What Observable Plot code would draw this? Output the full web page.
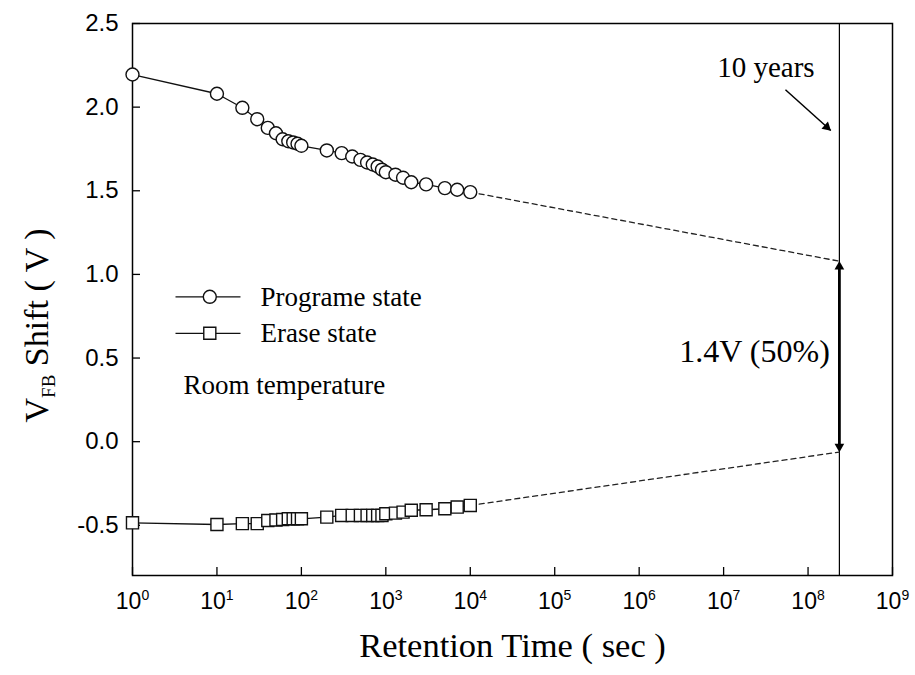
<!DOCTYPE html>
<html>
<head>
<meta charset="utf-8">
<script src="https://cdn.jsdelivr.net/npm/d3@7"></script>
<script src="https://cdn.jsdelivr.net/npm/@observablehq/plot@0.6"></script>
<style>
  body { margin: 0; background: #fff; }
</style>
</head>
<body>
<div id="chart"></div>
<script>
// ---- data ----
const times = [1, 10, 20, 30, 40, 50, 60, 70, 80, 90, 100, 200, 300, 400, 500, 600, 700, 800, 900, 1000, 1300, 1600, 2000, 3000, 5000, 7000, 10000];
const programVfb = [2.195, 2.08, 1.996, 1.928, 1.876, 1.844, 1.808, 1.796, 1.789, 1.781, 1.769, 1.741, 1.725, 1.705, 1.685, 1.669, 1.657, 1.645, 1.626, 1.611, 1.596, 1.578, 1.551, 1.538, 1.516, 1.506, 1.492];
const eraseVfb = [-0.485, -0.495, -0.49, -0.49, -0.471, -0.468, -0.465, -0.461, -0.461, -0.461, -0.461, -0.451, -0.441, -0.441, -0.441, -0.441, -0.441, -0.441, -0.441, -0.431, -0.427, -0.421, -0.41, -0.407, -0.401, -0.391, -0.381];

const tenYears = 2.35e8;
const extrapTimes = [10000, tenYears];
const programExtrap = [1.492, 1.079];
const eraseExtrap = [-0.381, -0.062];

const xTickExps = [0, 1, 2, 3, 4, 5, 6, 7, 8, 9];
const xTicks = xTickExps.map(e => Math.pow(10, e));
const yTicks = [-0.5, 0, 0.5, 1.0, 1.5, 2.0, 2.5];

const seriesNames = ["Programe state", "Erase state"];
const noteText = "Room temperature";
const windowText = "1.4V (50%)";
const yearsText = "10 years";
const xTitle = "Retention Time ( sec )";
const yTitleParts = ["V", "FB", " Shift ( V )"];

// ---- tables built from the arrays ----
const programData = times.map((t, i) => ({t, v: programVfb[i]}));
const eraseData = times.map((t, i) => ({t, v: eraseVfb[i]}));
const programExt = extrapTimes.map((t, i) => ({t, v: programExtrap[i]}));
const eraseExt = extrapTimes.map((t, i) => ({t, v: eraseExtrap[i]}));

const serif = "'Liberation Serif', 'Times New Roman', serif";
const sans = "'Liberation Sans', Arial, sans-serif";
const yTitleJoined = yTitleParts.join("|");

const chart = Plot.plot({
  width: 915,
  height: 675,
  marginLeft: 132,
  marginRight: 23,
  marginTop: 23,
  marginBottom: 100,
  style: {fontFamily: serif, background: "#fff", color: "#000", overflow: "visible"},
  x: {type: "log", domain: [1, 1e9]},
  y: {domain: [-0.8, 2.5]},
  marks: [
    Plot.axisX(xTicks, {tickSize: 0, tickPadding: 17, fontSize: 23, fontFamily: sans,
      tickFormat: d => "10^" + Math.round(Math.log10(d)), label: null}),
    Plot.axisY(yTicks, {tickSize: 0, tickPadding: 14, fontSize: 24, fontFamily: sans,
      tickFormat: d => d.toFixed(1), label: null}),
    Plot.tickX(xTicks, {x: d => d, insetTop: 544, stroke: "#000", strokeWidth: 1.3}),
    Plot.tickY(yTicks, {y: d => d, insetRight: 752, stroke: "#000", strokeWidth: 1.3}),
    Plot.frame({stroke: "#000", strokeWidth: 1.5}),
    Plot.ruleX([tenYears], {stroke: "#000", strokeWidth: 1.2}),
    // extrapolations
    Plot.line(programExt, {x: "t", y: "v", stroke: "#222", strokeWidth: 1.3, strokeDasharray: "5,4"}),
    Plot.line(eraseExt, {x: "t", y: "v", stroke: "#222", strokeWidth: 1.3, strokeDasharray: "5,4"}),
    // series
    Plot.line(programData, {x: "t", y: "v", stroke: "#111", strokeWidth: 1.3}),
    Plot.line(eraseData, {x: "t", y: "v", stroke: "#111", strokeWidth: 1.3}),
    Plot.dot(programData, {x: "t", y: "v", r: 6.5, fill: "#fff", stroke: "#111", strokeWidth: 1.4}),
    Plot.dot(eraseData, {x: "t", y: "v", r: 6.8, symbol: "square", fill: "#fff", stroke: "#111", strokeWidth: 1.4}),
    // double arrow for memory window
    Plot.ruleX([tenYears], {y1: programExtrap[1] - 0.03, y2: eraseExtrap[1] + 0.03, stroke: "#000", strokeWidth: 2.8}),
    Plot.dot([tenYears], {x: d => d, y: programExtrap[1], symbol: "triangle", r: 3.6, fill: "#000", stroke: "none", dy: 5.5}),
    Plot.dot([tenYears], {x: d => d, y: eraseExtrap[1], symbol: "triangle", r: 3.6, fill: "#000", stroke: "none", rotate: 180, dy: -5.5}),
    Plot.text([windowText], {x: 1.81e8, y: 0.540, text: d => d, textAnchor: "end", fontSize: 32, fontFamily: serif, fill: "#000"}),
    // 10 years annotation
    Plot.text([yearsText], {x: 8.4e6, y: 2.235, text: d => d, textAnchor: "start", fontSize: 29, fontFamily: serif, fill: "#000"}),
    Plot.link([0], {x1: 5.4e7, y1: 2.104, x2: 1.86e8, y2: 1.86, stroke: "#000", strokeWidth: 1.5}),
    Plot.dot([0], {x: 1.86e8, y: 1.86, symbol: "triangle", r: 3.6, fill: "#000", stroke: "none", rotate: 132, dx: -4, dy: -3.6}),
    // legend
    Plot.link([0.866, 0.648], {x1: 3.23, x2: 19.0, y1: d => d, y2: d => d, stroke: "#111", strokeWidth: 1.3}),
    Plot.dot([0.866], {x: 8.23, y: d => d, r: 6.5, fill: "#fff", stroke: "#111", strokeWidth: 1.4}),
    Plot.dot([0.648], {x: 8.23, y: d => d, r: 6.8, symbol: "square", fill: "#fff", stroke: "#111", strokeWidth: 1.4}),
    Plot.text(seriesNames, {x: 32.8, y: (d, i) => [0.8655, 0.646][i], text: d => d, textAnchor: "start", fontSize: 27, fontFamily: serif, fill: "#000", letterSpacing: 1}),
    Plot.text([noteText], {x: 4.02, y: 0.338, text: d => d, textAnchor: "start", fontSize: 27, fontFamily: serif, fill: "#000", letterSpacing: 1}),
    // axis titles
    Plot.text([xTitle], {frameAnchor: "bottom", dy: 81, text: d => d, fontSize: 34.5, fontFamily: serif, fill: "#000"}),
    Plot.text([yTitleJoined], {frameAnchor: "left", textAnchor: "middle", dx: -95, dy: 26, rotate: -90, text: d => d, fontSize: 34, fontFamily: serif, fill: "#000"})
  ]
});

document.getElementById("chart").appendChild(chart);

// superscripts for x tick labels
d3.select(chart).selectAll('g[aria-label="x-axis tick label"] text').each(function () {
  const txt = d3.select(this);
  const parts = txt.text().split("^");
  txt.text(null);
  txt.append("tspan").text(parts[0]);
  txt.append("tspan").attr("font-size", 14).attr("dy", -9).text(parts[1]);
});

// subscript for y title
d3.select(chart).selectAll("text").filter(function () { return this.textContent === yTitleJoined; }).each(function () {
  const txt = d3.select(this);
  txt.text(null);
  txt.append("tspan").text(yTitleParts[0]);
  txt.append("tspan").attr("font-size", 19).attr("dy", 7).text(yTitleParts[1]);
  txt.append("tspan").attr("dy", -7).text(yTitleParts[2]);
});
</script>
</body>
</html>
